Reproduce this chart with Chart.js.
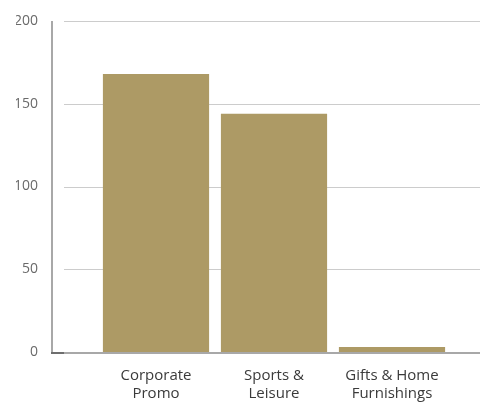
<!DOCTYPE html>
<html>
<head>
<meta charset="utf-8">
<script src="https://cdn.jsdelivr.net/npm/chart.js@4"></script>
<style>
html,body{margin:0;padding:0;background:#fff;}
#wrap{width:480px;height:402px;position:relative;}
</style>
</head>
<body>
<div id="wrap"><canvas id="c" width="480" height="402"></canvas></div>
<script>
const categories = [['Corporate','Promo'], ['Sports &','Leisure'], ['Gifts & Home','Furnishings']];
const values = [168, 144, 3];
const yTicks = [0, 50, 100, 150, 200];

const gridPlugin = {
  id: 'customGrid',
  beforeDatasetsDraw(chart) {
    const ctx = chart.ctx;
    const y = chart.scales.y;
    ctx.save();
    ctx.lineWidth = 1;
    ctx.strokeStyle = '#cccccc';
    yTicks.forEach(v => {
      if (v === 0) return;
      const py = Math.round(y.getPixelForValue(v)) + 0.5;
      ctx.beginPath();
      ctx.moveTo(64, py);
      ctx.lineTo(480, py);
      ctx.stroke();
    });
    ctx.restore();
  },
  afterDatasetsDraw(chart) {
    const ctx = chart.ctx;
    const y = chart.scales.y;
    const top = y.getPixelForValue(200);
    const zero = Math.round(y.getPixelForValue(0));
    ctx.save();
    ctx.strokeStyle = '#a8a8a8';
    ctx.lineWidth = 2;
    ctx.beginPath();
    ctx.moveTo(52, top);
    ctx.lineTo(52, zero + 2);
    ctx.stroke();
    ctx.beginPath();
    ctx.moveTo(51, zero + 1);
    ctx.lineTo(480, zero + 1);
    ctx.stroke();
    ctx.strokeStyle = '#6e6e6e';
    ctx.beginPath();
    ctx.moveTo(51, zero + 1);
    ctx.lineTo(64, zero + 1);
    ctx.stroke();
    ctx.restore();
  }
};

new Chart(document.getElementById('c'), {
  type: 'bar',
  data: {
    labels: categories,
    datasets: [{
      data: values,
      backgroundColor: '#ad9a65',
      borderWidth: 0,
      barPercentage: 0.9,
      categoryPercentage: 1.0
    }]
  },
  options: {
    responsive: false,
    animation: false,
    devicePixelRatio: 1,
    layout: { padding: { left: 16, right: 29, top: 21, bottom: 0 } },
    plugins: { legend: { display: false }, tooltip: { enabled: false } },
    scales: {
      x: {
        grid: { display: false, drawTicks: false },
        border: { display: false },
        afterFit: s => { s.height = 50; s.paddingLeft = 0; s.paddingRight = 0; },
        ticks: {
          padding: 15,
          color: '#3a3a3a',
          font: { family: 'Open Sans', size: 15 },
          maxRotation: 0,
          autoSkip: false
        }
      },
      y: {
        min: 0,
        max: 200,
        afterFit: s => { s.width = 81; s.paddingTop = 0; s.paddingBottom = 0; },
        afterBuildTicks: s => { s.ticks = yTicks.map(v => ({ value: v })); },
        grid: { display: false, drawTicks: false },
        border: { display: false },
        ticks: {
          padding: 59,
          color: '#6a6a6a',
          font: { family: 'Open Sans', size: 14 }
        }
      }
    }
  },
  plugins: [gridPlugin]
});
</script>
</body>
</html>
